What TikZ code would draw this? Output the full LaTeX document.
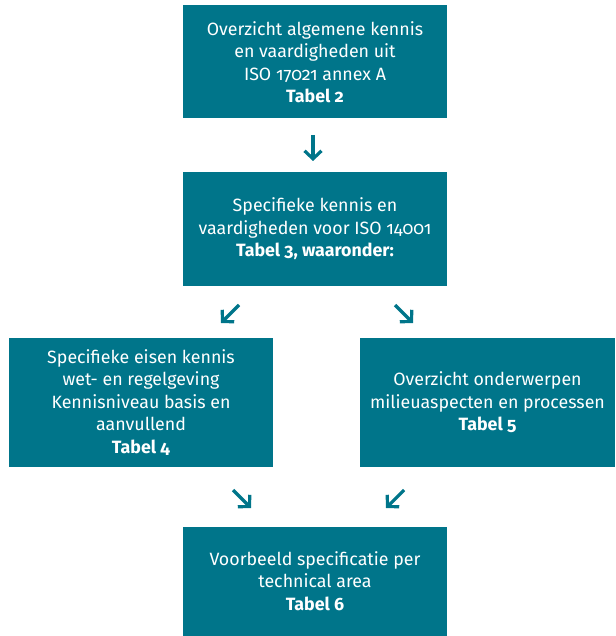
\documentclass[tikz,border=0pt]{standalone}
\usepackage{fontspec}
\setmainfont{Fira Sans}[Numbers=OldStyle]
\usetikzlibrary{arrows.meta}
\definecolor{teal}{HTML}{00758A}
\begin{document}
\begin{tikzpicture}[x=1pt,y=-1pt,
  box/.style={fill=teal,text=white,align=center,inner sep=0pt,
    font=\fontsize{17.8}{22.5}\selectfont},
  arr/.style={draw=teal,line width=3.2pt,-{Straight Barb[length=8pt,width=17pt,line width=3.2pt]}}]
\useasboundingbox (0,0) rectangle (615,636);
\node[box,minimum width=264pt,minimum height=113pt] (a) at (315,62)
  {Overzicht algemene kennis\\en vaardigheden uit\\ISO 17021 annex A\\\textbf{Tabel 2}};
\node[box,minimum width=264pt,minimum height=114pt] (b) at (315,229)
  {Specifieke kennis en\\vaardigheden voor ISO 14001\\\textbf{Tabel 3, waaronder:}};
\node[box,minimum width=264pt,minimum height=129pt] (c) at (141,402.5)
  {Specifieke eisen kennis\\wet- en regelgeving\\Kennisniveau basis en\\aanvullend\\\textbf{Tabel 4}};
\node[box,minimum width=255pt,minimum height=129pt] (d) at (487.5,402.5)
  {Overzicht onderwerpen\\milieuaspecten en processen\\\textbf{Tabel 5}};
\node[box,minimum width=264pt,minimum height=109pt] (e) at (315,581)
  {Voorbeeld specificatie per\\technical area\\\textbf{Tabel 6}};
\coordinate (a1) at (313,135); \coordinate (a2) at (313,161);
\coordinate (b1) at (239,305); \coordinate (b2) at (221,323);
\coordinate (c1) at (395,305); \coordinate (c2) at (413,323);
\coordinate (d1) at (233,490); \coordinate (d2) at (251,508);
\coordinate (e1) at (404,490); \coordinate (e2) at (386,508);
\draw[arr] (a1) -- (a2);
\draw[arr] (b1) -- (b2);
\draw[arr] (c1) -- (c2);
\draw[arr] (d1) -- (d2);
\draw[arr] (e1) -- (e2);
\end{tikzpicture}
\end{document}
